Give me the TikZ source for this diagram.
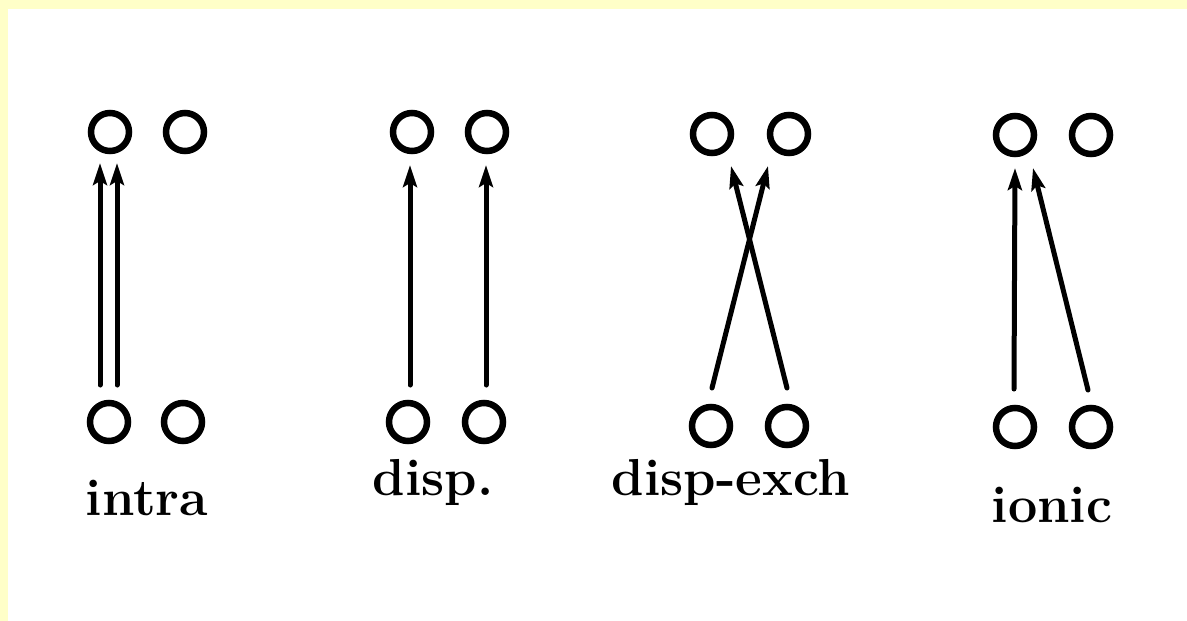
\documentclass[tikz,border=0pt]{standalone}
\usetikzlibrary{arrows.meta}
\definecolor{paleyellow}{RGB}{255,255,200}
\tikzset{
  atom/.style={draw=black, circle, line width=6.5pt, minimum size=38pt, inner sep=0pt},
  link/.style={line width=5pt, line cap=round, -{Stealth[length=22pt,width=14pt,inset=4pt]}},
  lbl/.style={font=\fontsize{52}{60}\selectfont\bfseries, anchor=base, inner sep=0pt}
}
\begin{document}
\begin{tikzpicture}[x=1pt,y=-1pt]
\useasboundingbox (0,0) rectangle (1187,621);
\fill[white] (0,0) rectangle (1187,621);
\fill[paleyellow] (0,0) rectangle (1187,9);
\fill[paleyellow] (0,0) rectangle (8,621);
% intra
\node[atom] (a1) at (110,132) {};
\node[atom] (a2) at (185,132) {};
\node[atom] (a3) at (109,422) {};
\node[atom] (a4) at (183,422) {};
\coordinate (a5) at (100,385);
\coordinate (a6) at (100,163);
\coordinate (a7) at (117,385);
\coordinate (a8) at (117,163);
\draw[link] (a5) -- (a6);
\draw[link] (a7) -- (a8);
\node[lbl] (la) at (147,515) {intra};
% disp
\node[atom] (b1) at (412,132) {};
\node[atom] (b2) at (487,132) {};
\node[atom] (b3) at (408,422) {};
\node[atom] (b4) at (484,422) {};
\coordinate (b5) at (410,385);
\coordinate (b6) at (410,165);
\coordinate (b7) at (486,385);
\coordinate (b8) at (486,165);
\draw[link] (b5) -- (b6);
\draw[link] (b7) -- (b8);
\node[lbl] (lb) at (433,495) {disp.};
% disp-exch
\node[atom] (c1) at (712,134) {};
\node[atom] (c2) at (789,134) {};
\node[atom] (c3) at (711,426) {};
\node[atom] (c4) at (787,426) {};
\coordinate (c5) at (712,388);
\coordinate (c6) at (768,166);
\coordinate (c7) at (787,388);
\coordinate (c8) at (731,166);
\draw[link] (c5) -- (c6);
\draw[link] (c7) -- (c8);
\node[lbl] (lc) at (731,495) {disp-exch};
% ionic
\node[atom] (d1) at (1015,135) {};
\node[atom] (d2) at (1091,135) {};
\node[atom] (d3) at (1015,427) {};
\node[atom] (d4) at (1091,427) {};
\coordinate (d5) at (1014,389);
\coordinate (d6) at (1015,168);
\coordinate (d7) at (1088,390);
\coordinate (d8) at (1033,168);
\draw[link] (d5) -- (d6);
\draw[link] (d7) -- (d8);
\node[lbl] (ld) at (1052,522) {ionic};
\end{tikzpicture}
\end{document}
